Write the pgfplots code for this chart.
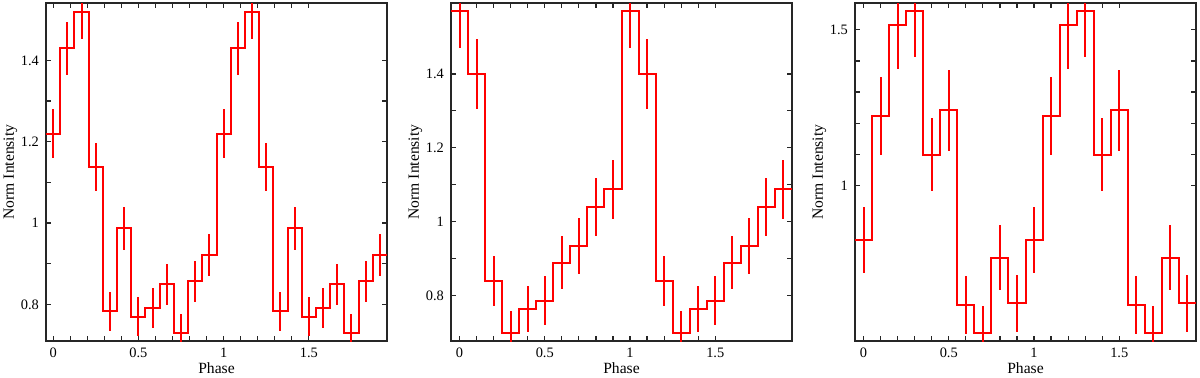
\documentclass[border=0pt]{standalone}
\usepackage{fontspec}
\setmainfont{Liberation Serif}
\usepackage{pgfplots}
\usepackage{pgfplotstable}
\pgfplotsset{compat=1.18}

% step levels at left bin edges (last row closes the final bin)
\pgfplotstableread{
x y
-0.04167 1.220
0.04167 1.430
0.12500 1.520
0.20833 1.138
0.29167 0.783
0.37500 0.987
0.45833 0.770
0.54167 0.791
0.62500 0.849
0.70833 0.730
0.79167 0.857
0.87500 0.921
0.95833 1.220
1.04167 1.430
1.12500 1.520
1.20833 1.138
1.29167 0.783
1.37500 0.987
1.45833 0.770
1.54167 0.791
1.62500 0.849
1.70833 0.730
1.79167 0.857
1.87500 0.921
1.95833 0.921
}\stepA
\pgfplotstableread{
x y e
0.00000 1.220 0.060
0.08333 1.430 0.065
0.16667 1.520 0.068
0.25000 1.138 0.058
0.33333 0.783 0.048
0.41667 0.987 0.053
0.50000 0.770 0.048
0.58333 0.791 0.050
0.66667 0.849 0.051
0.75000 0.730 0.047
0.83333 0.857 0.050
0.91667 0.921 0.052
1.00000 1.220 0.060
1.08333 1.430 0.065
1.16667 1.520 0.068
1.25000 1.138 0.058
1.33333 0.783 0.048
1.41667 0.987 0.053
1.50000 0.770 0.048
1.58333 0.791 0.050
1.66667 0.849 0.051
1.75000 0.730 0.047
1.83333 0.857 0.050
1.91667 0.921 0.052
}\errA

\pgfplotstableread{
x y
-0.05 1.569
0.05 1.400
0.15 0.839
0.25 0.699
0.35 0.763
0.45 0.786
0.55 0.889
0.65 0.934
0.75 1.039
0.85 1.0875
0.95 1.569
1.05 1.400
1.15 0.839
1.25 0.699
1.35 0.763
1.45 0.786
1.55 0.889
1.65 0.934
1.75 1.039
1.85 1.0875
1.95 1.0875
}\stepB
\pgfplotstableread{
x y e
0.0 1.569 0.100
0.1 1.400 0.095
0.2 0.839 0.068
0.3 0.699 0.059
0.4 0.763 0.062
0.5 0.786 0.067
0.6 0.889 0.072
0.7 0.934 0.076
0.8 1.039 0.079
0.9 1.0875 0.080
1.0 1.569 0.100
1.1 1.400 0.095
1.2 0.839 0.068
1.3 0.699 0.059
1.4 0.763 0.062
1.5 0.786 0.067
1.6 0.889 0.072
1.7 0.934 0.076
1.8 1.039 0.079
1.9 1.0875 0.080
}\errB

\pgfplotstableread{
x y
-0.05 0.825
0.05 1.224
0.15 1.515
0.25 1.560
0.35 1.099
0.45 1.2425
0.55 0.617
0.65 0.526
0.75 0.769
0.85 0.622
0.95 0.825
1.05 1.224
1.15 1.515
1.25 1.560
1.35 1.099
1.45 1.2425
1.55 0.617
1.65 0.526
1.75 0.769
1.85 0.622
1.95 0.622
}\stepC
\pgfplotstableread{
x y e
0.0 0.825 0.106
0.1 1.224 0.125
0.2 1.515 0.140
0.3 1.560 0.146
0.4 1.099 0.117
0.5 1.2425 0.130
0.6 0.617 0.092
0.7 0.526 0.087
0.8 0.769 0.103
0.9 0.622 0.091
1.0 0.825 0.106
1.1 1.224 0.125
1.2 1.515 0.140
1.3 1.560 0.146
1.4 1.099 0.117
1.5 1.2425 0.130
1.6 0.617 0.092
1.7 0.526 0.087
1.8 0.769 0.103
1.9 0.622 0.091
}\errC

\pgfplotsset{
  panel/.style={
    scale only axis, width=170.5pt, height=169pt, anchor=south west,
    axis line style={black!85, line width=1pt},
    tick align=inside, major tick length=2.6pt, minor tick length=2.4pt,
    tick style={black!85, line width=0.6pt},
    xtick={0,0.5,1,1.5}, minor x tick num=4,
    xticklabels={0,0.5,1,1.5},
    tick label style={font=\fontsize{7.2}{8}\selectfont},
    label style={font=\fontsize{7.8}{8}\selectfont},
    /pgf/number format/assume math mode=true,
    xlabel={Phase}, ylabel={Norm Intensity},
    xlabel style={yshift=4.5pt},
    ylabel style={yshift=-5pt},
    every axis plot/.append style={red, line width=1pt},
  },
  stepline/.style={const plot mark left, no marks},
  errs/.style={draw=none, no marks,
    error bars/.cd, y dir=both, y explicit, error mark=none,
    error bar style={red, line width=1pt}},
}

\begin{document}
\begin{tikzpicture}
\useasboundingbox (0,0) rectangle (600pt,188.5pt);

\begin{axis}[panel, at={(23pt,18pt)},
  xmin=-0.04167, xmax=1.95833, ymin=0.71, ymax=1.541,
  ytick={0.8,1,1.2,1.4}, yticklabels={0.8,1,1.2,1.4}, minor y tick num=1]
\addplot[stepline] table {\stepA};
\addplot[errs] table[y error=e] {\errA};
\end{axis}

\begin{axis}[panel, at={(225.5pt,18pt)},
  xmin=-0.05, xmax=1.95, ymin=0.677, ymax=1.592,
  ytick={0.8,1,1.2,1.4}, yticklabels={0.8,1,1.2,1.4}, minor y tick num=1]
\addplot[stepline] table {\stepB};
\addplot[errs] table[y error=e] {\errB};
\end{axis}

\begin{axis}[panel, at={(427.5pt,18pt)},
  xmin=-0.05, xmax=1.95, ymin=0.501, ymax=1.586,
  ytick={1,1.5}, yticklabels={1,1.5}, minor y tick num=4]
\addplot[stepline] table {\stepC};
\addplot[errs] table[y error=e] {\errC};
\end{axis}
\end{tikzpicture}
\end{document}
